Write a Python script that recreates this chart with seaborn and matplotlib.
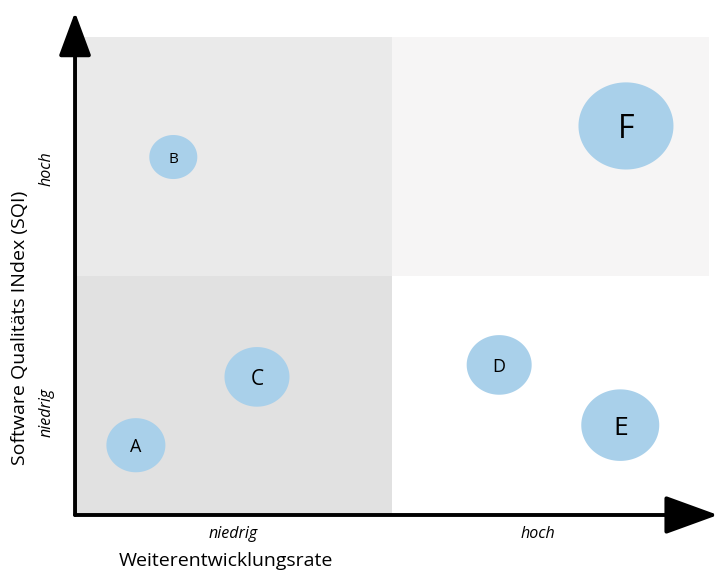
import numpy as np
import pandas as pd
import seaborn as sns
import matplotlib.pyplot as plt
from matplotlib.path import Path

plt.switch_backend("Agg")

# Bubble data (axes run 0..10 in both directions)
labels = ["A", "B", "C", "D", "E", "F"]
weiterentwicklung = [0.96, 1.55, 2.87, 6.69, 8.60, 8.69]
sqi = [1.46, 7.49, 2.89, 3.14, 1.88, 8.14]
bubble_width = [59, 48, 65, 65, 78, 95]  # bubble diameter, pixels

x_ticklabels = ["niedrig", "hoch"]
y_ticklabels = ["niedrig", "hoch"]

# Styles
label_fontsizes = [13, 11, 15, 13, 19, 23]
bubble_color = "#a9d0ea"
quadrant_colors = {
    "top_left": "#eaeaea",
    "bottom_left": "#e1e1e1",
    "top_right": "#f6f5f5",
    "bottom_right": "#ffffff",
}


def main():
    sns.set_theme(style="white")
    plt.rcParams["font.family"] = ["Open Sans", "DejaVu Sans"]

    fig = plt.figure(figsize=(7.18, 5.70), dpi=100)
    ax = fig.add_axes([0.1045, 0.0965, 0.883, 0.8385])
    lim = (0, 10)
    mid = (lim[0] + lim[1]) / 2
    ax.set_xlim(lim)
    ax.set_ylim(lim)

    # Quadrant backgrounds
    ax.fill_between([lim[0], mid], mid, lim[1], color=quadrant_colors["top_left"], lw=0, zorder=0)
    ax.fill_between([lim[0], mid], lim[0], mid, color=quadrant_colors["bottom_left"], lw=0, zorder=0)
    ax.fill_between([mid, lim[1]], mid, lim[1], color=quadrant_colors["top_right"], lw=0, zorder=0)
    ax.fill_between([mid, lim[1]], lim[0], mid, color=quadrant_colors["bottom_right"], lw=0, zorder=0)

    df = pd.DataFrame({"label": labels, "x": weiterentwicklung, "y": sqi, "width": bubble_width})
    df["area"] = (df["width"] * 72 / fig.dpi) ** 2
    amin, amax = df["area"].min(), df["area"].max()

    # Slightly wide ellipse marker, like the original bubbles
    t = np.linspace(0, 2 * np.pi, 120)
    ellipse = Path(np.column_stack([1.09 * np.cos(t), np.sin(t)]))

    sns.scatterplot(
        data=df, x="x", y="y", size="area", sizes=(amin, amax), size_norm=(amin, amax),
        marker=ellipse, color=bubble_color, edgecolor="none", linewidth=0,
        legend=False, ax=ax, zorder=2,
    )
    for (_, row), fs in zip(df.iterrows(), label_fontsizes):
        ax.text(row["x"], row["y"], row["label"], ha="center", va="center_baseline",
                fontsize=fs, color="black", zorder=3)

    # Axes as arrows
    for s in ax.spines.values():
        s.set_visible(False)
    ax.annotate("", xy=(0, 1.052), xytext=(0, 0), xycoords="axes fraction",
                annotation_clip=False,
                arrowprops=dict(arrowstyle="-|>,head_length=27,head_width=10", color="black",
                                lw=2.8, mutation_scale=1, shrinkA=0, shrinkB=0))
    ax.annotate("", xy=(1.014, 0), xytext=(0, 0), xycoords="axes fraction",
                annotation_clip=False,
                arrowprops=dict(arrowstyle="-|>,head_length=33,head_width=12", color="black",
                                lw=2.8, mutation_scale=1, shrinkA=0, shrinkB=0))

    ax.set_xticks([2.5, 7.3], x_ticklabels, fontstyle="italic", fontsize=11.5, color="black")
    ax.set_yticks([2.15, 7.24], y_ticklabels, fontstyle="italic", fontsize=11.5, color="black",
                  rotation=90, va="center")
    ax.tick_params(axis="x", length=0, pad=8)
    ax.tick_params(axis="y", length=0, pad=15)

    ax.set_xlabel("Weiterentwicklungsrate", fontsize=14, color="black")
    ax.xaxis.set_label_coords(0.238, -0.077)
    ax.set_ylabel("Software Qualitäts INdex (SQI)", fontsize=14, color="black")
    ax.yaxis.set_label_coords(-0.073, 0.391)

    fig.savefig("out.png", dpi=100)
    plt.close(fig)


if __name__ == "__main__":
    main()
